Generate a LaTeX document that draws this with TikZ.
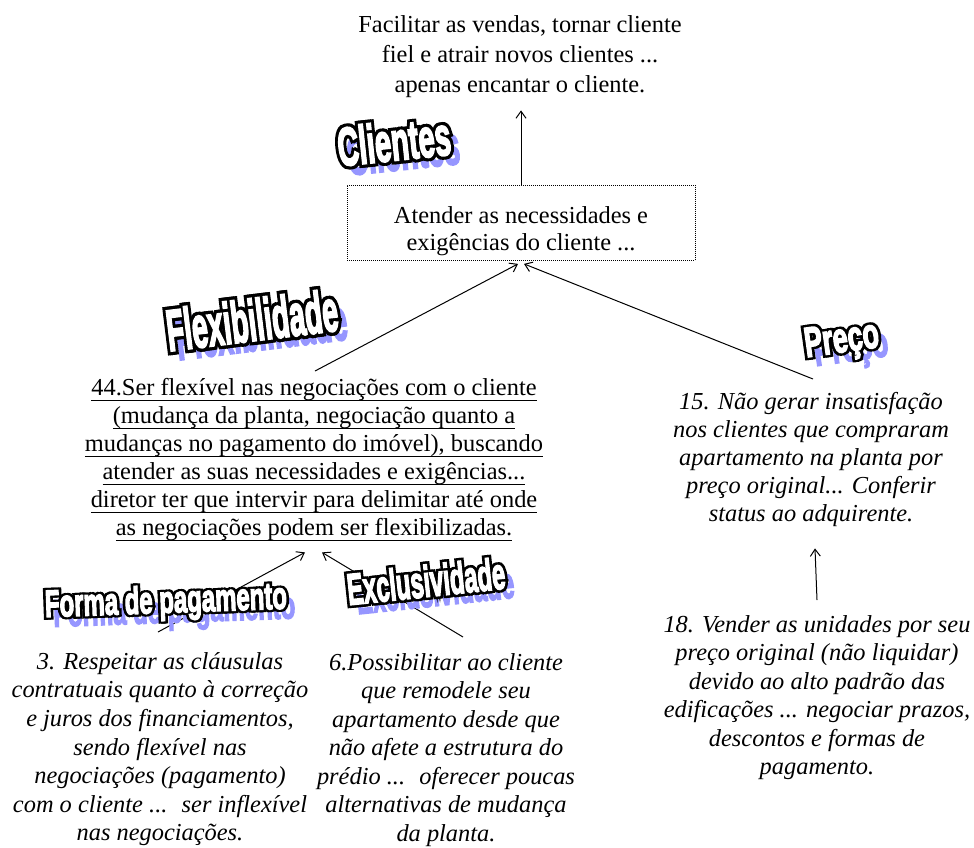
\documentclass[tikz,border=0pt]{standalone}
\usepackage{fontspec}
\usepackage{graphicx}
\setmainfont{Liberation Serif}
\newfontfamily\artfacefont{Liberation Sans}[BoldFeatures={FakeBold=4}]
\newfontfamily\artedgefont{Liberation Sans}[BoldFeatures={FakeBold=15}]
\usetikzlibrary{arrows.meta}

\definecolor{shadowblue}{RGB}{150,150,255}

% struts fixing the first baseline and the last depth of every text block
\newcommand\topstrut{\rule{0pt}{20pt}}
\newcommand\botstrut{\rule[-7pt]{0pt}{0pt}}
% underline at a fixed depth below the baseline
\newcommand\undl[1]{\setbox0\hbox{#1}\rlap{\rule[-5.4pt]{\wd0}{1pt}}\box0}

\newcommand\artsize[1]{\fontsize{#1}{#1}\selectfont\bfseries}
% outlined display word with a blue drop shadow
% #1 name, #2 centre, #3 angle, #4 size, #5 horizontal scale, #6 word
\newcommand\artword[6]{%
  \begin{scope}[shift={#2}, rotate=#3]
    \node[artshadow] at (8pt,-10pt) {\artfacefont\artsize{#4}\scalebox{#5}[1]{#6}};
    \foreach \dx in {-1.3,1.3}
      \node[artedge] at (\dx pt,0) {\artedgefont\artsize{#4}\scalebox{#5}[1]{#6}};
    \node[artface] (#1) at (0,0) {\artfacefont\artsize{#4}\scalebox{#5}[1]{#6}};
  \end{scope}}

\tikzset{
  txt/.style={inner sep=0pt, align=center, anchor=north},
  arr/.style={-{Straight Barb[length=7pt,width=10pt]}, line width=1pt},
  artshadow/.style={inner sep=0pt, transform shape, text=shadowblue},
  artedge/.style={inner sep=0pt, transform shape, text=black},
  artface/.style={inner sep=0pt, transform shape, text=white},
}

\begin{document}
\begin{tikzpicture}[x=1pt,y=-1pt]
\useasboundingbox[fill=white] (0,0) rectangle (974,847);

% goal at the top
\node[txt, font=\fontsize{24.4}{30}\selectfont] (goal) at (520,12)
  {\topstrut Facilitar as vendas, tornar cliente\\
   fiel e atrair novos clientes ...\\
   apenas encantar o cliente.\botstrut};

% central box
\node[txt, draw, dash pattern=on 1pt off 1pt, line width=0.9pt,
      minimum width=348pt, font=\fontsize{24.4}{27}\selectfont] (box) at (521,185)
  {\rule{0pt}{38pt}Atender as necessidades e\\
   exigências do cliente ...\rule[-10pt]{0pt}{0pt}};

% flexibility statement
\node[txt, font=\fontsize{24.4}{28}\selectfont] (n44) at (314,375)
  {\topstrut\undl{44.Ser flexível nas negociações com o cliente}\\
   \undl{(mudança da planta, negociação quanto a}\\
   \undl{mudanças no pagamento do imóvel), buscando}\\
   \undl{atender as suas necessidades e exigências...}\\
   \undl{diretor ter que intervir para delimitar até onde}\\
   \undl{as negociações podem ser flexibilizadas.}\botstrut};

% price statements
\node[txt, font=\fontsize{24.4}{28}\selectfont\itshape] (n15) at (811,389)
  {\topstrut 15. Não gerar insatisfação\\
   nos clientes que compraram\\
   apartamento na planta por\\
   preço original... Conferir\\
   status ao adquirente.\botstrut};

\node[txt, font=\fontsize{24.4}{28.5}\selectfont\itshape] (n18) at (817,612)
  {\topstrut 18. Vender as unidades por seu\\
   preço original (não liquidar)\\
   devido ao alto padrão das\\
   edificações ... negociar prazos,\\
   descontos e formas de\\
   pagamento.\botstrut};

% payment and exclusivity statements
\node[txt, font=\fontsize{24.4}{28.6}\selectfont\itshape] (n3) at (160,649)
  {\topstrut 3. Respeitar as cláusulas\\
   contratuais quanto à correção\\
   e juros dos financiamentos,\\
   sendo flexível nas\\
   negociações (pagamento)\\
   com o cliente ...~ ser inflexível\\
   nas negociações.\botstrut};

\node[txt, font=\fontsize{24.4}{28.5}\selectfont\itshape] (n6) at (446,650)
  {\topstrut 6.Possibilitar ao cliente\\
   que remodele seu\\
   apartamento desde que\\
   não afete a estrutura do\\
   prédio ...~ oferecer poucas\\
   alternativas de mudança\\
   da planta.\botstrut};

% connectors
\draw[arr, shorten >=11pt] (box.north) -- (box.north |- goal.south);
\draw[arr] ([xshift=1pt,yshift=4pt]n44.north) -- ([xshift=-3pt,yshift=-3pt]box.south);
\draw[arr] ([xshift=2pt,yshift=10pt]n15.north) -- ([xshift=3pt,yshift=-3pt]box.south);
\draw[arr] ([yshift=12pt]n18.north) -- ([xshift=4pt,yshift=-20pt]n15.south);
\draw[arr] ([xshift=-2pt,yshift=17pt]n3.north) -- ([xshift=-9pt,yshift=-10pt]n44.south);
\draw[arr] ([xshift=17pt,yshift=13pt]n6.north) -- ([xshift=8pt,yshift=-10pt]n44.south);

% category titles
\artword{tclientes}{(394,141)}{6}{54}{0.54}{Clientes}
\artword{tflex}{(252,320)}{7}{58}{0.49}{Flexibilidade}
\artword{tpreco}{(842,342)}{8}{42}{0.64}{Preço}
\artword{tforma}{(166,603)}{2}{38}{0.63}{Forma de pagamento}
\artword{texcl}{(426,581)}{6}{44}{0.54}{Exclusividade}

\end{tikzpicture}
\end{document}
